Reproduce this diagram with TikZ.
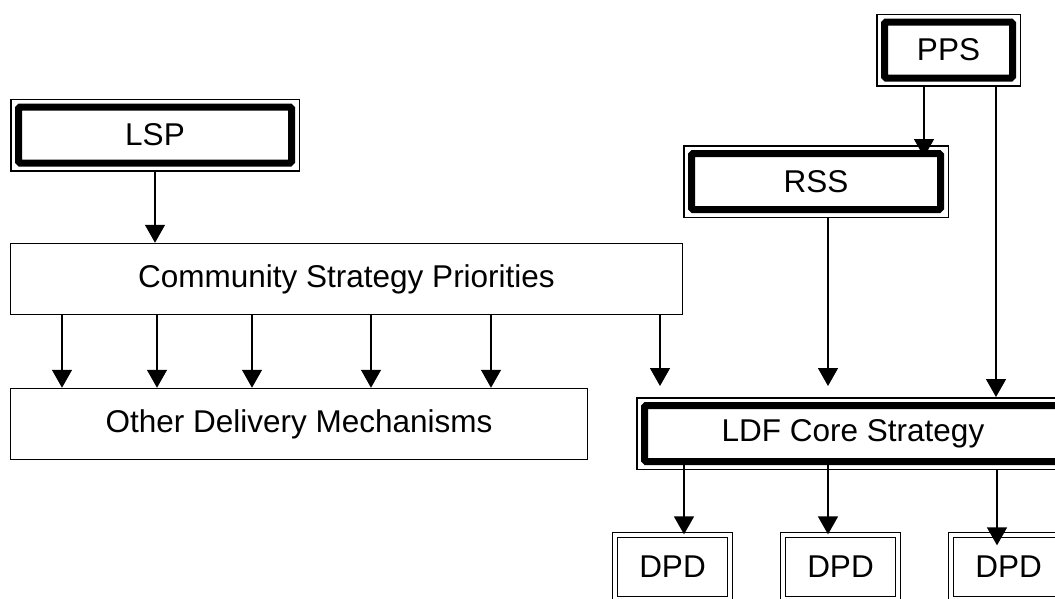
\documentclass[tikz,border=0pt]{standalone}
\usepackage{fontspec}
\setmainfont{Liberation Sans}
\usetikzlibrary{arrows.meta,fit}

\begin{document}
\begin{tikzpicture}[x=1pt, y=-1pt, ->, >={Triangle[width=20pt,length=18pt]}, line width=1.5pt,
  every node/.style={font=\fontsize{31.5}{36}\selectfont},
  plainbox/.style={draw, line width=1.5pt, minimum height=71pt, inner sep=0pt},
  heavybox/.style={draw, line width=7pt, rounded corners=1.5pt, minimum height=56pt, inner sep=0pt},
  framebox/.style={draw, line width=1.5pt, inner sep=4.25pt},
  dpdbox/.style={draw, double, line width=1.3pt, double distance=3.7pt, minimum width=115pt, minimum height=64pt}]
\useasboundingbox (0,0) rectangle (1055,598);

% strategy boxes with a heavy border and a thin outer frame
\node[heavybox, minimum width=273pt] (lsp) at (155,135) {LSP};
\node[heavybox, minimum width=128pt] (pps) at (948.5,50) {PPS};
\node[heavybox, minimum width=249pt] (rss) at (816,181.5) {RSS};
\node[heavybox, minimum width=417pt] (ldf) at (853,433.5) {LDF Core Strategy};
\node[framebox, fit=(lsp)] (lspframe) {};
\node[framebox, fit=(pps)] (ppsframe) {};
\node[framebox, fit=(rss)] (rssframe) {};
\node[framebox, fit=(ldf)] (ldfframe) {};

% plain boxes
\node[plainbox, minimum width=672pt] (csp) at (346.5,279) {Community Strategy Priorities};
\node[plainbox, minimum width=577pt] (odm) at (299,424) {Other Delivery Mechanisms};

% development plan documents
\node[dpdbox] (dpd1) at (672.5,567) {DPD};
\node[dpdbox] (dpd2) at (840.5,567) {DPD};
\node[dpdbox] (dpd3) at (1008.5,567) {DPD};

% connectors
\draw (lspframe.south) -- (lspframe.south |- csp.north);
\foreach \x in {62,157,252,371,491}
  \draw (\x,0 |- csp.south) -- (\x,0 |- odm.north);
\draw[shorten >=11pt] (660,0 |- csp.south) -- (660,0 |- ldfframe.north);
\draw[shorten >=11pt] (828,0 |- rssframe.south) -- (828,0 |- ldfframe.north);
\draw[shorten >=-7pt] (924,0 |- ppsframe.south) -- (924,0 |- rss.north);
\draw (996,0 |- ppsframe.south) -- (996,0 |- ldfframe.north);
\draw (684,0 |- ldf.south) -- (684,0 |- dpd1.north);
\draw (828,0 |- ldf.south) -- (828,0 |- dpd2.north);
\draw[shorten >=-11pt] (997,0 |- ldfframe.south) -- (997,0 |- dpd3.north);
\end{tikzpicture}
\end{document}
